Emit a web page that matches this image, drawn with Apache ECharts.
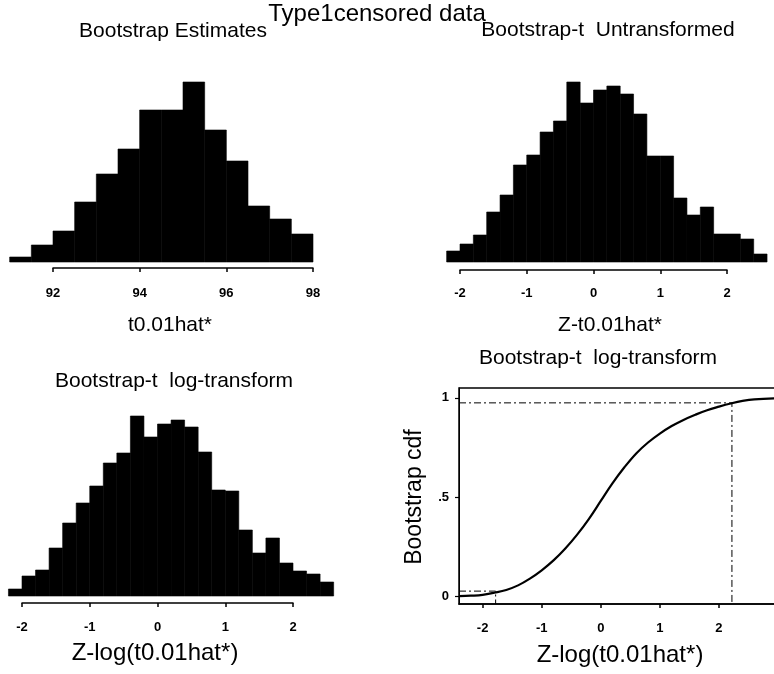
<!DOCTYPE html>
<html>
<head>
<meta charset="utf-8">
<script src="https://cdn.jsdelivr.net/npm/echarts@6/dist/echarts.min.js"></script>
<style>html,body{margin:0;padding:0;background:#fff}#c{width:774px;height:674px}</style>
</head>
<body>
<div id="c"></div>
<script>
// ---- data ----
var estEdges = [91, 91.5, 92, 92.5, 93, 93.5, 94, 94.5, 95, 95.5, 96, 96.5, 97, 97.5, 98];
var estCounts = [5, 17, 31, 60, 88, 113, 152, 152, 180, 132, 101, 56, 43, 28];

var zEdges = [-2.2, -2.0, -1.8, -1.6, -1.4, -1.2, -1.0, -0.8, -0.6, -0.4, -0.2, 0, 0.2, 0.4, 0.6, 0.8, 1.0, 1.2, 1.4, 1.6, 1.8, 2.0, 2.2, 2.4, 2.6];
var zUntransCounts = [11, 18, 27, 50, 67, 97, 107, 130, 141, 180, 159, 172, 176, 168, 148, 106, 106, 64, 47, 55, 28, 28, 23, 8];
var zLogCounts = [7, 20, 26, 48, 73, 93, 110, 133, 143, 180, 159, 172, 176, 169, 144, 106, 105, 66, 43, 58, 33, 25, 22, 14];

var cdfX = [-2.4, -2.2, -2.0, -1.8, -1.6, -1.4, -1.2, -1.0, -0.8, -0.6, -0.4, -0.2, 0, 0.2, 0.4, 0.6, 0.8, 1.0, 1.2, 1.4, 1.6, 1.8, 2.0, 2.2, 2.4, 2.6, 3.0];
var cdfY = [0, 0.002, 0.006, 0.017, 0.031, 0.054, 0.088, 0.13, 0.18, 0.24, 0.31, 0.39, 0.48, 0.57, 0.65, 0.72, 0.775, 0.82, 0.858, 0.889, 0.915, 0.938, 0.956, 0.972, 0.985, 0.993, 0.998];
var quantX = [-1.78, 2.22];
var quantP = [0.025, 0.975];

var estTicks = [92, 94, 96, 98];
var zTicks = [-2, -1, 0, 1, 2];
var cdfXTicks = [-2, -1, 0, 1, 2, 3];
var cdfYTicks = [0, 0.5, 1];

// ---- build ----
function binData(edges, counts) {
  var out = [];
  for (var i = 0; i < counts.length; i++) out.push([edges[i], edges[i + 1], counts[i]]);
  return out;
}
function renderBar(params, api) {
  var p0 = api.coord([api.value(0), api.value(2)]);
  var p1 = api.coord([api.value(1), 0]);
  return {
    type: 'rect',
    shape: { x: p0[0], y: p0[1], width: p1[0] - p0[0], height: p1[1] - p0[1] },
    style: { fill: '#000', stroke: '#000', lineWidth: 0.6 }
  };
}
var FONT = '"Liberation Sans", Arial, Helvetica, sans-serif';
var tickLabel = { color: '#000', fontFamily: FONT, fontWeight: 'bold', fontSize: 13 };

function histX(gi, min, max, ticks, offset, margin) {
  return {
    type: 'value', gridIndex: gi, min: min, max: max, offset: offset,
    axisLine: { show: true, onZero: false, lineStyle: { color: '#000', width: 1.5 } },
    axisTick: { show: true, length: 4, inside: false, customValues: ticks, lineStyle: { color: '#000', width: 1.5 } },
    axisLabel: Object.assign({ margin: margin, customValues: ticks }, tickLabel),
    splitLine: { show: false }
  };
}
function histY(gi) {
  return { type: 'value', gridIndex: gi, min: 0, max: 180, show: false, splitLine: { show: false } };
}
function text(x, y, str, size, rot) {
  var el = {
    type: 'text', x: x, y: y,
    style: { text: str, fill: '#000', font: size + 'px ' + FONT, align: 'center', verticalAlign: 'middle' }
  };
  if (rot) el.rotation = rot;
  return el;
}

var lowerQ = [[-2.4, quantP[0]], [quantX[0], quantP[0]], [quantX[0], -0.04]];
var upperQ = [[-2.4, quantP[1]], [quantX[1], quantP[1]], [quantX[1], -0.04]];
var cdfData = cdfX.map(function (x, i) { return [x, cdfY[i]]; });

var option = {
  backgroundColor: '#fff',
  animation: false,
  grid: [
    { left: 53, width: 260, top: 82, height: 180, outerBoundsMode: 'none' },
    { left: 460, width: 267, top: 82, height: 180, outerBoundsMode: 'none' },
    { left: 22, width: 271, top: 416, height: 180, outerBoundsMode: 'none' },
    { left: 459, width: 319, top: 388, height: 216, outerBoundsMode: 'none', show: true, borderColor: '#000', borderWidth: 1.5 }
  ],
  xAxis: [
    histX(0, 92, 98, estTicks, 6, 19),
    histX(1, -2, 2, zTicks, 8, 17),
    histX(2, -2, 2, zTicks, 7, 18),
    {
      type: 'value', gridIndex: 3, min: -2.4, max: 3.0,
      axisLine: { show: true, onZero: false, lineStyle: { color: '#000', width: 1.5 } },
      axisTick: { show: true, length: 4, customValues: cdfXTicks, lineStyle: { color: '#000', width: 1.5 } },
      axisLabel: Object.assign({ margin: 18, customValues: cdfXTicks }, tickLabel),
      splitLine: { show: false }
    }
  ],
  yAxis: [
    histY(0), histY(1), histY(2),
    {
      type: 'value', gridIndex: 3, min: -0.04, max: 1.05,
      axisLine: { show: true, onZero: false, lineStyle: { color: '#000', width: 1 } },
      axisTick: { show: true, length: 4, customValues: cdfYTicks, lineStyle: { color: '#000', width: 1.2 } },
      axisLabel: Object.assign({
        margin: 10, customValues: cdfYTicks,
        formatter: function (v) { return v === 0 ? '0' : (v === 1 ? '1' : String(v).replace(/^0/, '')); }
      }, tickLabel),
      splitLine: { show: false }
    }
  ],
  series: [
    { type: 'custom', xAxisIndex: 0, yAxisIndex: 0, renderItem: renderBar, clip: false, encode: { x: [0, 1], y: 2 }, data: binData(estEdges, estCounts) },
    { type: 'custom', xAxisIndex: 1, yAxisIndex: 1, renderItem: renderBar, clip: false, encode: { x: [0, 1], y: 2 }, data: binData(zEdges, zUntransCounts) },
    { type: 'custom', xAxisIndex: 2, yAxisIndex: 2, renderItem: renderBar, clip: false, encode: { x: [0, 1], y: 2 }, data: binData(zEdges, zLogCounts) },
    { type: 'line', xAxisIndex: 3, yAxisIndex: 3, data: lowerQ, symbol: 'none', lineStyle: { color: '#000', width: 1, type: [7, 3, 2, 3] } },
    { type: 'line', xAxisIndex: 3, yAxisIndex: 3, data: upperQ, symbol: 'none', lineStyle: { color: '#000', width: 1, type: [7, 3, 2, 3] } },
    { type: 'line', xAxisIndex: 3, yAxisIndex: 3, data: cdfData, symbol: 'none', smooth: 0.4, lineStyle: { color: '#000', width: 2.2 } }
  ],
  graphic: [
    text(377, 14, 'Type1censored data', 24),
    text(173, 31, 'Bootstrap Estimates', 21),
    text(608, 30, 'Bootstrap-t  Untransformed', 21),
    text(170, 325, 't0.01hat*', 21),
    text(610, 325, 'Z-t0.01hat*', 21),
    text(174, 381, 'Bootstrap-t  log-transform', 21),
    text(598, 358, 'Bootstrap-t  log-transform', 21),
    text(155, 653, 'Z-log(t0.01hat*)', 24),
    text(620, 655, 'Z-log(t0.01hat*)', 24),
    text(415, 497, 'Bootstrap cdf', 23, Math.PI / 2)
  ]
};
var chart = echarts.init(document.getElementById('c'));
chart.setOption(option);
</script>
</body>
</html>
